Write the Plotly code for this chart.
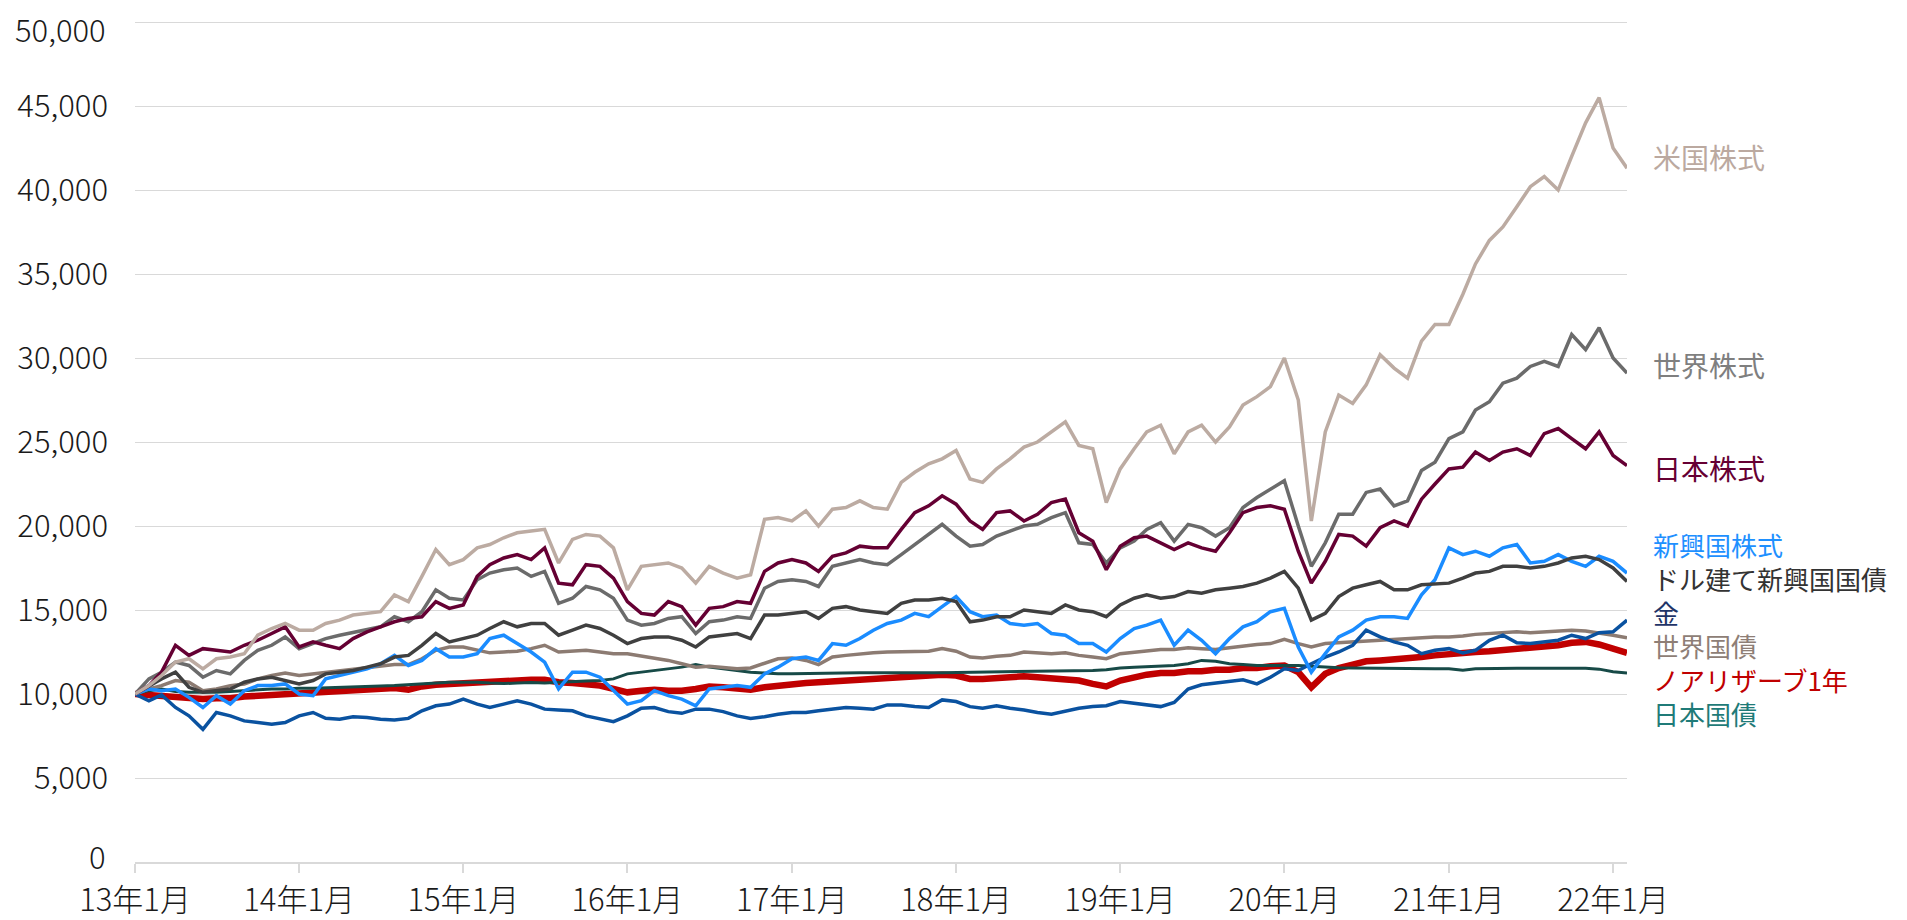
import pandas as pd
import plotly.graph_objects as go

# Monthly observation dates (Jan 2013 .. Feb 2022)
dates = pd.date_range("2013-01-01", periods=110, freq="MS")

tick_dates = ["2013-01-01", "2014-01-01", "2015-01-01", "2016-01-01", "2017-01-01",
              "2018-01-01", "2019-01-01", "2020-01-01", "2021-01-01", "2022-01-01"]
tick_labels = ["13年1月", "14年1月", "15年1月", "16年1月", "17年1月",
               "18年1月", "19年1月", "20年1月", "21年1月", "22年1月"]
y_ticks = [0, 5000, 10000, 15000, 20000, 25000, 30000, 35000, 40000, 45000, 50000]
y_tick_text = ["", "5,000", "10,000", "15,000", "20,000", "25,000",
               "30,000", "35,000", "40,000", "45,000", ""]
y_edge_labels = [(0, "0"), (50000, "50,000")]

us_stocks = [
    10000, 10500, 11100, 11900, 12100, 11500, 12100, 12200, 12400, 13500,
    13900, 14200, 13800, 13800, 14200, 14400, 14700, 14800, 14900, 15900,
    15500, 17000, 18600, 17700, 18000, 18700, 18900, 19300, 19600, 19700,
    19800, 17800, 19200, 19500, 19400, 18700, 16200, 17600, 17700, 17800,
    17500, 16600, 17600, 17200, 16900, 17100, 20400, 20500, 20300, 20900,
    20000, 21000, 21100, 21500, 21100, 21000, 22600, 23200, 23700, 24000,
    24500, 22800, 22600, 23400, 24000, 24700, 25000, 25600, 26200, 24800,
    24600, 21400, 23400, 24600, 25600, 26000, 24300, 25600, 26000, 25000,
    25900, 27200, 27700, 28300, 30000, 27500, 20300, 25600, 27800, 27300,
    28400, 30200, 29400, 28800, 31000, 32000, 32000, 33800, 35600, 37000,
    37800, 39000, 40200, 40800, 40000, 42000, 44000, 45500, 42500, 41300]

world_stocks = [
    10000, 10900, 11300, 11900, 11700, 11000, 11400, 11200, 12000, 12600,
    12900, 13400, 12700, 13000, 13300, 13500, 13650, 13800, 14000, 14600,
    14300, 14900, 16200, 15700, 15600, 16800, 17200, 17400, 17500, 17000,
    17300, 15400, 15700, 16400, 16200, 15700, 14400, 14100, 14200, 14500,
    14600, 13600, 14300, 14400, 14600, 14500, 16300, 16700, 16800, 16700,
    16400, 17600, 17800, 18000, 17800, 17700, 18300, 18900, 19500, 20100,
    19400, 18800, 18900, 19400, 19700, 20000, 20100, 20500, 20800, 19000,
    18900, 17800, 18700, 19100, 19800, 20200, 19100, 20100, 19900, 19400,
    19900, 21100, 21700, 22200, 22700, 20000, 17600, 19000, 20700, 20700,
    22000, 22200, 21200, 21500, 23300, 23800, 25200, 25600, 26900, 27400,
    28500, 28800, 29500, 29800, 29500, 31400, 30500, 31800, 30000, 29100]

japan_stocks = [
    10000, 10500, 11300, 12900, 12300, 12700, 12600, 12500, 12900, 13200,
    13600, 14000, 12800, 13100, 12900, 12700, 13300, 13700, 14000, 14300,
    14500, 14600, 15500, 15100, 15300, 17000, 17700, 18100, 18300, 18000,
    18700, 16600, 16500, 17700, 17600, 16900, 15500, 14800, 14700, 15500,
    15200, 14100, 15100, 15200, 15500, 15400, 17300, 17800, 18000, 17800,
    17300, 18200, 18400, 18800, 18700, 18700, 19800, 20800, 21200, 21800,
    21300, 20300, 19800, 20800, 20900, 20300, 20700, 21400, 21600, 19600,
    19100, 17400, 18800, 19300, 19400, 19000, 18600, 19000, 18700, 18500,
    19600, 20800, 21100, 21200, 21000, 18500, 16600, 17900, 19500, 19400,
    18800, 19900, 20300, 20000, 21600, 22500, 23400, 23500, 24400, 23900,
    24400, 24600, 24200, 25500, 25800, 25200, 24600, 25600, 24200, 23600]

em_stocks = [
    10000, 10300, 10200, 10300, 9800, 9200, 9900, 9400, 10200, 10500,
    10500, 10600, 10000, 9900, 10900, 11100, 11300, 11500, 11800, 12300,
    11700, 12000, 12700, 12200, 12200, 12400, 13300, 13500, 13000, 12500,
    11900, 10300, 11300, 11300, 11000, 10200, 9400, 9600, 10200, 9900,
    9700, 9300, 10300, 10400, 10500, 10400, 11200, 11600, 12100, 12200,
    12000, 13000, 12900, 13300, 13800, 14200, 14400, 14800, 14600, 15200,
    15800, 14900, 14600, 14700, 14200, 14100, 14200, 13600, 13500, 13000,
    13000, 12500, 13300, 13900, 14100, 14400, 12900, 13800, 13200, 12400,
    13300, 14000, 14300, 14900, 15100, 12800, 11300, 12400, 13400, 13800,
    14400, 14600, 14600, 14500, 15900, 16800, 18700, 18300, 18500, 18200,
    18700, 18900, 17800, 17900, 18300, 17900, 17600, 18200, 17900, 17200]

usd_em_bonds = [
    10000, 10500, 10900, 11300, 10400, 10100, 10200, 10300, 10700, 10900,
    11000, 10800, 10600, 10800, 11200, 11300, 11400, 11600, 11800, 12200,
    12300, 12900, 13600, 13100, 13300, 13500, 13900, 14300, 14000, 14200,
    14200, 13500, 13800, 14100, 13900, 13500, 13000, 13300, 13400, 13400,
    13200, 12800, 13400, 13500, 13600, 13300, 14700, 14700, 14800, 14900,
    14500, 15100, 15200, 15000, 14900, 14800, 15400, 15600, 15600, 15700,
    15500, 14300, 14400, 14600, 14600, 15000, 14900, 14800, 15300, 15000,
    14900, 14600, 15300, 15700, 15900, 15700, 15800, 16100, 16000, 16200,
    16300, 16400, 16600, 16900, 17300, 16300, 14400, 14800, 15800, 16300,
    16500, 16700, 16200, 16200, 16500, 16550, 16600, 16900, 17200, 17300,
    17600, 17600, 17500, 17600, 17800, 18100, 18200, 18000, 17500, 16700]

gold = [
    10000, 9600, 9950, 9200, 8700, 7900, 8900, 8700, 8400, 8300,
    8200, 8300, 8700, 8900, 8550, 8500, 8650, 8600, 8500, 8450,
    8550, 9000, 9300, 9400, 9700, 9400, 9200, 9400, 9600, 9400,
    9100, 9050, 9000, 8700, 8500, 8350, 8700, 9150, 9200, 8950,
    8850, 9100, 9100, 8950, 8700, 8550, 8650, 8800, 8900, 8900,
    9000, 9100, 9200, 9150, 9100, 9350, 9350, 9250, 9200, 9650,
    9550, 9250, 9150, 9300, 9150, 9050, 8900, 8800, 9000, 9150,
    9250, 9300, 9550, 9450, 9350, 9250, 9500, 10300, 10550, 10650,
    10750, 10850, 10600, 11000, 11500, 11400, 11800, 12200, 12500, 12900,
    13800, 13400, 13100, 12900, 12400, 12600, 12700, 12450, 12600, 13200,
    13500, 13050, 13000, 13100, 13200, 13500, 13300, 13650, 13700, 14400]

world_bonds = [
    10000, 10300, 10500, 10800, 10700, 10200, 10300, 10500, 10600, 10900,
    11100, 11250, 11100, 11200, 11300, 11350, 11450, 11550, 11650, 11750,
    11750, 12100, 12600, 12800, 12800, 12600, 12450, 12500, 12550, 12700,
    12900, 12500, 12550, 12600, 12500, 12400, 12400, 12250, 12100, 12000,
    11800, 11600, 11650, 11600, 11500, 11550, 11850, 12100, 12150, 12000,
    11750, 12200, 12300, 12400, 12450, 12500, 12500, 12500, 12550, 12700,
    12550, 12200, 12150, 12250, 12300, 12500, 12450, 12400, 12450, 12300,
    12200, 12100, 12400, 12500, 12550, 12650, 12650, 12750, 12700, 12650,
    12750, 12850, 12950, 13000, 13250, 13000, 12800, 13000, 13050, 13100,
    13150, 13200, 13250, 13300, 13350, 13400, 13400, 13450, 13550, 13600,
    13650, 13700, 13650, 13700, 13750, 13800, 13750, 13650, 13500, 13350]

noah_reserve = [
    10000, 9950, 9900, 9850, 9750, 9700, 9750, 9750, 9850, 9900,
    9950, 10000, 10050, 10100, 10150, 10200, 10250, 10300, 10350, 10350,
    10250, 10450, 10550, 10600, 10650, 10700, 10750, 10800, 10850, 10850,
    10850, 10700, 10650, 10600, 10500, 10300, 10100, 10200, 10250, 10200,
    10200, 10300, 10450, 10400, 10350, 10250, 10400, 10450, 10550, 10650,
    10700, 10750, 10800, 10850, 10900, 10950, 11000, 11050, 11100, 11150,
    11100, 10900, 10900, 10950, 11000, 11050, 11000, 10950, 10900, 10800,
    10600, 10450, 10800, 11000, 11150, 11250, 11250, 11350, 11350, 11450,
    11450, 11550, 11550, 11650, 11700, 11300, 10400, 11200, 11550, 11750,
    11950, 12000, 12050, 12100, 12200, 12300, 12400, 12450, 12500, 12550,
    12600, 12650, 12700, 12800, 12900, 13050, 13100, 12950, 12700, 12450]

japan_bonds = [
    10000, 10200, 10300, 10150, 10100, 10100, 10100, 10150, 10200, 10250,
    10300, 10300, 10350, 10350, 10380, 10400, 10420, 10450, 10480, 10500,
    10550, 10600, 10650, 10700, 10700, 10700, 10650, 10620, 10650, 10680,
    10650, 10700, 10750, 10780, 10800, 10900, 11200, 11300, 11400, 11500,
    11600, 11750, 11600, 11500, 11400, 11300, 11250, 11200, 11200, 11220,
    11250, 11250, 11250, 11270, 11270, 11280, 11280, 11280, 11270, 11270,
    11280, 11300, 11300, 11320, 11340, 11350, 11360, 11370, 11380, 11380,
    11400, 11450, 11550, 11600, 11620, 11650, 11700, 11800, 12000, 11950,
    11800, 11750, 11700, 11700, 11720, 11700, 11650, 11600, 11560, 11550,
    11550, 11550, 11540, 11520, 11520, 11510, 11500, 11420, 11500, 11520,
    11530, 11530, 11530, 11530, 11540, 11540, 11530, 11480, 11320, 11250]

# drawing order (back to front): name, values, line colour, line width, label colour
series = [
    ("ノアリザーブ1年", noah_reserve, "#C00000", 6.5, "#C00000"),
    ("日本国債", japan_bonds, "#174A47", 3, "#1F7B78"),
    ("世界国債", world_bonds, "#8C7B72", 3.5, "#8E7E76"),
    ("金", gold, "#0A52A0", 3.5, "#1F3568"),
    ("新興国株式", em_stocks, "#1A8CFF", 3.5, "#1E90FF"),
    ("ドル建て新興国国債", usd_em_bonds, "#404040", 3.5, "#333333"),
    ("世界株式", world_stocks, "#6B6B6B", 3.5, "#7F7F7F"),
    ("日本株式", japan_stocks, "#650033", 3.5, "#660033"),
    ("米国株式", us_stocks, "#BCABA2", 3.5, "#BBA9A0"),
]
label_color = {s[0]: s[4] for s in series}

# labels placed individually (upper) and as one stacked block (lower)
upper_labels = [("米国株式", 41950), ("世界株式", 29600), ("日本株式", 23450)]
lower_labels = ["新興国株式", "ドル建て新興国国債", "金", "世界国債", "ノアリザーブ1年", "日本国債"]
lower_block_center = 13850

FONT = "Noto Sans CJK JP"
TICK_FONT = dict(family=FONT, size=31, color="#1a1a1a", weight=300)

fig = go.Figure()
for name, vals, color, width, _ in series:
    fig.add_trace(go.Scatter(x=dates, y=vals, mode="lines", name=name,
                             line=dict(color=color, width=width)))

annotations = []
for name, ly in upper_labels:
    annotations.append(dict(x=1, xref="paper", y=ly, yref="y", text=name,
                            showarrow=False, xanchor="left", yanchor="middle",
                            xshift=24, font=dict(family=FONT, size=28, color=label_color[name])))
block_text = "<br>".join(
    f'<span style="color:{label_color[n]}">{n}</span>' for n in lower_labels)
annotations.append(dict(x=1, xref="paper", y=lower_block_center, yref="y", text=block_text,
                        showarrow=False, xanchor="left", yanchor="middle", align="left",
                        xshift=24, font=dict(family=FONT, size=26, color="#333333")))
# the two end tick labels, nudged inward a few pixels so they stay clear of
# the page edge and of the date labels
for val, txt in y_edge_labels:
    annotations.append(dict(x=0, xref="paper", y=val, yref="y", text=txt,
                            showarrow=False, xanchor="right", yanchor="middle",
                            xshift=-27, yshift=(7 if val == 0 else -6), font=TICK_FONT))

fig.update_layout(
    width=1907, height=920,
    margin=dict(l=135, r=280, t=17, b=58),
    plot_bgcolor="white", paper_bgcolor="white",
    showlegend=False,
    font=dict(family=FONT, size=31, color="#1a1a1a"),
    annotations=annotations,
    xaxis=dict(
        type="date",
        range=["2013-01-01", "2022-02-01"],
        tickvals=tick_dates, ticktext=tick_labels,
        showgrid=False,
        showline=True, linecolor="#D9D9D9", linewidth=1.5,
        ticks="outside", ticklen=9, tickwidth=1.5, tickcolor="#D9D9D9",
        ticklabelstandoff=1,
        automargin=False,
        tickfont=TICK_FONT,
        zeroline=False,
    ),
    yaxis=dict(
        range=[0, 50300], tickvals=y_ticks, ticktext=y_tick_text,
        showgrid=True, gridcolor="#D9D9D9", gridwidth=1.3,
        zeroline=False, showline=False,
        ticklabelstandoff=26,
        ticklabeloverflow="allow",
        automargin=False,
        tickfont=TICK_FONT,
    ),
)

fig.write_html("out.html", config={"displayModeBar": False},
               post_script="document.body.style.margin='0';")
